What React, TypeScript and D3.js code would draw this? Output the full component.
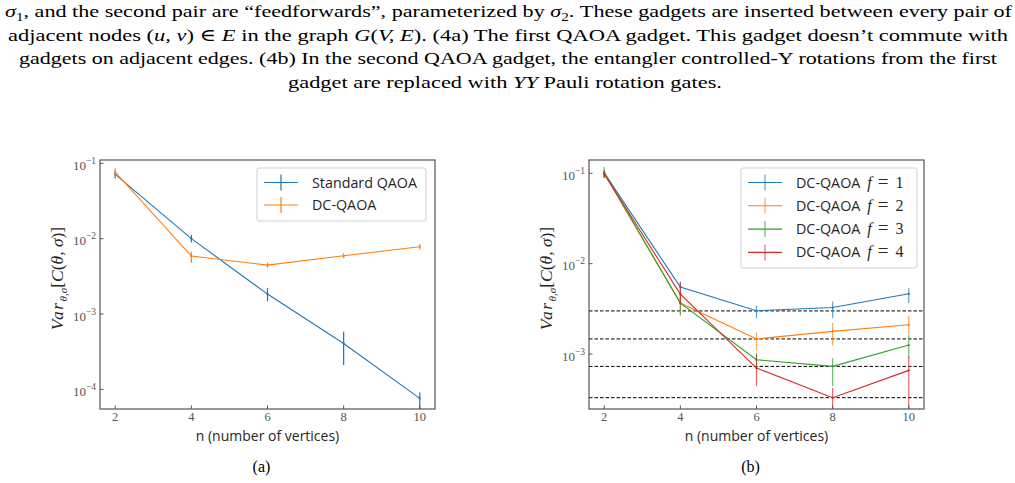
import React from "react";
import * as d3 from "d3";

// ---- data ----
const nVals = [2, 4, 6, 8, 10];

// panel (a)
const stdQaoa = [0.0714, 0.01, 0.00184, 0.000407, 0.000076];
const stdQaoaHi = [0.0798, 0.0112, 0.00221, 0.00058, 0.000091];
const stdQaoaLo = [0.063, 0.0089, 0.00148, 0.00021, 0.00005];
const dcQaoa = [0.0766, 0.00588, 0.00446, 0.00593, 0.00782];
const dcQaoaHi = [0.0859, 0.0067, 0.0048, 0.0064, 0.0085];
const dcQaoaLo = [0.0652, 0.0048, 0.0041, 0.0055, 0.0072];

// panel (b)
const f1 = [0.101, 0.0055, 0.00301, 0.00327, 0.00464];
const f1Hi = [0.108, 0.00634, 0.00342, 0.00381, 0.00536];
const f1Lo = [0.093, 0.00472, 0.0025, 0.0025, 0.00366];
const f2 = [0.099, 0.00366, 0.00147, 0.00178, 0.00211];
const f2Hi = [0.108, 0.00433, 0.00173, 0.0022, 0.00265];
const f2Lo = [0.088, 0.00265, 0.0011, 0.00124, 0.00166];
const f3 = [0.102, 0.00366, 0.000865, 0.00073, 0.00126];
const f3Hi = [0.117, 0.00472, 0.00103, 0.0009, 0.00163];
const f3Lo = [0.089, 0.00272, 0.0007, 0.00044, 0.0009];
const f4 = [0.098, 0.0046, 0.0007, 0.000329, 0.00066];
const f4Hi = [0.105, 0.00614, 0.00098, 0.00042, 0.00094];
const f4Lo = [0.089, 0.0035, 0.00044, 0.0001, 0.0001];
const refLines = [0.003, 0.00147, 0.00073, 0.000329];

const xTicks = [2, 4, 6, 8, 10];
const yTicksA = [-1, -2, -3, -4];
const yTicksB = [-1, -2, -3];

const tab = ["#1f77b4", "#ff7f0e", "#2ca02c", "#d62728"];

const serif = "'Liberation Serif', 'DejaVu Serif', serif";
const sans = "'Open Sans', 'Noto Sans', sans-serif";

type Series = {
  name: string;
  f?: number;
  color: string;
  vals: number[];
  hi: number[];
  lo: number[];
};

const seriesA: Series[] = [
  { name: "Standard QAOA", color: tab[0], vals: stdQaoa, hi: stdQaoaHi, lo: stdQaoaLo },
  { name: "DC-QAOA", color: tab[1], vals: dcQaoa, hi: dcQaoaHi, lo: dcQaoaLo },
];
const seriesB: Series[] = [
  { name: "DC-QAOA", f: 1, color: tab[0], vals: f1, hi: f1Hi, lo: f1Lo },
  { name: "DC-QAOA", f: 2, color: tab[1], vals: f2, hi: f2Hi, lo: f2Lo },
  { name: "DC-QAOA", f: 3, color: tab[2], vals: f3, hi: f3Hi, lo: f3Lo },
  { name: "DC-QAOA", f: 4, color: tab[3], vals: f4, hi: f4Hi, lo: f4Lo },
];

type PanelProps = {
  id: string;
  left: number;
  right: number;
  top: number;
  bottom: number;
  yMaxExp: number;
  yMinExp: number;
  yTicks: number[];
  series: Series[];
  hlines?: number[];
  legend: { x0: number; y0: number; w: number; h: number; step: number };
  errAlpha: number;
  caption: string;
};

const Panel = (props: PanelProps) => {
  const { id, left, right, top, bottom, yMaxExp, yMinExp, yTicks, series, hlines, legend, errAlpha, caption } = props;

  const x = d3.scaleLinear().domain([1.6, 10.4]).range([left, right]);
  const y = d3.scaleLog().domain([Math.pow(10, yMinExp), Math.pow(10, yMaxExp)]).range([bottom, top]);

  const line = d3
    .line<number>()
    .x((_, i) => x(nVals[i]))
    .y((d) => y(d));

  const cx = (left + right) / 2;
  const cy = (top + bottom) / 2;

  return (
    <g>
      <defs>
        <clipPath id={id}>
          <rect x={left} y={top} width={right - left} height={bottom - top} />
        </clipPath>
      </defs>

      <g clipPath={`url(#${id})`}>
        {/* dashed reference lines */}
        {(hlines || []).map((v, i) => (
          <line key={i} x1={left} x2={right} y1={y(v)} y2={y(v)} stroke="#000" strokeWidth={1} strokeDasharray="3.5,2" />
        ))}
        {series.map((s, si) => (
          <g key={si}>
            <path d={line(s.vals) || ""} fill="none" stroke={s.color} strokeWidth={1.1} />
            {s.vals.map((v, i) => (
              <line
                key={i}
                x1={x(nVals[i])}
                x2={x(nVals[i])}
                y1={y(s.hi[i])}
                y2={y(s.lo[i])}
                stroke={s.color}
                strokeWidth={1.2}
                strokeOpacity={errAlpha}
              />
            ))}
            {s.vals.map((v, i) => (
              <circle key={"m" + i} cx={x(nVals[i])} cy={y(v)} r={1.1} fill={s.color} />
            ))}
          </g>
        ))}
      </g>

      {/* frame */}
      <rect x={left} y={top} width={right - left} height={bottom - top} fill="none" stroke="#555" strokeWidth={1.2} />

      {/* x ticks */}
      {xTicks.map((t) => (
        <g key={t}>
          <line x1={x(t)} x2={x(t)} y1={bottom} y2={bottom - 3.5} stroke="#555" strokeWidth={1} />
          <text x={x(t)} y={bottom + 12} textAnchor="middle" fontFamily={serif} fontSize={12.5} fill="#555">
            {t}
          </text>
        </g>
      ))}

      {/* y ticks */}
      {yTicks.map((e) => {
        const yy = y(Math.pow(10, e));
        return (
          <g key={e}>
            <line x1={left} x2={left + 3.5} y1={yy} y2={yy} stroke="#555" strokeWidth={1} />
            <text x={left - 4} y={yy + 6.5} textAnchor="end" fontFamily={serif} fontSize={13} fill="#555">
              10
              <tspan dy={-6} fontSize={9.5}>
                {"\u2212" + Math.abs(e)}
              </tspan>
            </text>
          </g>
        );
      })}

      {/* axis labels */}
      <text x={cx} y={bottom + 32} textAnchor="middle" fontFamily={sans} fontSize={14} fill="#262626">
        n (number of vertices)
      </text>
      <text
        transform={`translate(${left - 37},${cy - 6}) rotate(-90)`}
        textAnchor="middle"
        fontFamily={serif}
        fontSize={17.5}
        fill="#262626"
      >
        <tspan fontStyle="italic" letterSpacing={1.5}>Var</tspan>
        <tspan fontStyle="italic" fontSize={11} dy={4}>
          θ,σ
        </tspan>
        <tspan dy={-4}>[</tspan>
        <tspan fontStyle="italic">C</tspan>
        <tspan>(</tspan>
        <tspan fontStyle="italic">θ, σ</tspan>
        <tspan>)]</tspan>
      </text>

      {/* legend */}
      <rect
        x={legend.x0}
        y={legend.y0}
        width={legend.w}
        height={legend.h}
        rx={2}
        fill="#fff"
        fillOpacity={0.85}
        stroke="#d0d0d0"
        strokeWidth={1}
      />
      {series.map((s, i) => {
        const ly = legend.y0 + 14.5 + i * legend.step;
        const lx = legend.x0 + 7;
        return (
          <g key={i}>
            <line x1={lx} x2={lx + 34} y1={ly} y2={ly} stroke={s.color} strokeWidth={1.1} />
            <line x1={lx + 17} x2={lx + 17} y1={ly - 8} y2={ly + 8} stroke={s.color} strokeWidth={1.2} strokeOpacity={errAlpha} />
            <text x={lx + 48} y={ly + 5} fontFamily={sans} fontSize={14.3} fill="#262626">
              {s.name}
              {s.f !== undefined && (
                <tspan fontFamily={serif} fontSize={16}>
                  <tspan dx={7} fontStyle="italic">f</tspan>
                  <tspan dx={6} fontSize={19}>=</tspan>
                  <tspan dx={7}>{s.f}</tspan>
                </tspan>
              )}
            </text>
          </g>
        );
      })}

      <text x={cx - 6} y={472} textAnchor="middle" fontFamily={serif} fontSize={16} fill="#000">
        {caption}
      </text>
    </g>
  );
};

const Caption = () => {
  const fs = 17.5;
  return (
    <g fontFamily={serif} fontSize={fs} fill="#000">
      <text x={5} y={17} textLength={1007} lengthAdjust="spacingAndGlyphs">
        <tspan fontStyle="italic">σ</tspan>
        <tspan fontSize={12} dy={4}>1</tspan>
        <tspan dy={-4}>, and the second pair are “feedforwards”, parameterized by </tspan>
        <tspan fontStyle="italic">σ</tspan>
        <tspan fontSize={12} dy={4}>2</tspan>
        <tspan dy={-4}>. These gadgets are inserted between every pair of</tspan>
      </text>
      <text x={8} y={41} textLength={1000} lengthAdjust="spacingAndGlyphs">
        adjacent nodes (<tspan fontStyle="italic">u, v</tspan>) ∈ <tspan fontStyle="italic">E</tspan> in the graph{" "}
        <tspan fontStyle="italic">G</tspan>(<tspan fontStyle="italic">V, E</tspan>). (4a) The first QAOA gadget. This gadget
        doesn’t commute with
      </text>
      <text x={19} y={64} textLength={978} lengthAdjust="spacingAndGlyphs">
        gadgets on adjacent edges. (4b) In the second QAOA gadget, the entangler controlled-Y rotations from the first
      </text>
      <text x={288} y={88} textLength={434} lengthAdjust="spacingAndGlyphs">
        gadget are replaced with <tspan fontStyle="italic">YY</tspan> Pauli rotation gates.
      </text>
    </g>
  );
};

export default function App() {
  return (
    <svg
      width={1015}
      height={483}
      style={{ position: "absolute", left: 0, top: 0, background: "#fff" }}
    >
      <rect width={1015} height={483} fill="#fff" />
      <Caption />
      <Panel
        id="clipA"
        left={100}
        right={435}
        top={160}
        bottom={409}
        yMaxExp={-0.956}
        yMinExp={-4.26}
        yTicks={yTicksA}
        series={seriesA}
        legend={{ x0: 257, y0: 168, w: 169, h: 53, step: 22.5 }}
        errAlpha={1}
        caption="(a)"
      />
      <Panel
        id="clipB"
        left={589}
        right={924}
        top={160}
        bottom={409}
        yMaxExp={-0.853}
        yMinExp={-3.608}
        yTicks={yTicksB}
        series={seriesB}
        hlines={refLines}
        legend={{ x0: 741, y0: 168, w: 176, h: 100, step: 23.3 }}
        errAlpha={0.7}
        caption="(b)"
      />
    </svg>
  );
}
